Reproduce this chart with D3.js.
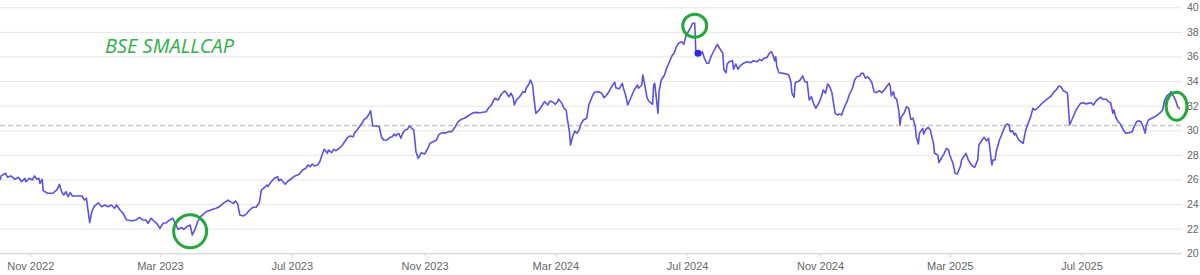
<!DOCTYPE html>
<html>
<head>
<meta charset="utf-8">
<script src="https://cdn.jsdelivr.net/npm/d3@7"></script>
<style>
  html, body { margin: 0; padding: 0; background: #fff; }
  svg { display: block; }
  .axis text { fill: #666; font-family: "Liberation Sans Narrow", "Arial Narrow", "Liberation Sans", Arial, sans-serif; }
  .axis.x text { font-size: 11px; }
  .axis.y text { font-size: 10.5px; }
  .title { font-family: "Open Sans", "Noto Sans", sans-serif; font-style: italic; font-size: 20px; fill: #2fae49; }
</style>
</head>
<body>
<div id="chart"></div>
<script>
const title = 'BSE SMALLCAP';

// closes (one row per month)
const dates = [
  '2022-10-04','2022-10-05','2022-10-09','2022-10-11','2022-10-14','2022-10-18','2022-10-21','2022-10-24','2022-10-27','2022-10-28','2022-10-31',
  '2022-11-03','2022-11-05','2022-11-07','2022-11-09','2022-11-10','2022-11-12','2022-11-13','2022-11-17','2022-11-22','2022-11-26','2022-11-28','2022-11-30',
  '2022-12-02','2022-12-04','2022-12-06','2022-12-08','2022-12-10','2022-12-14','2022-12-19','2022-12-21','2022-12-23','2022-12-26','2022-12-28','2022-12-30',
  '2023-01-03','2023-01-06','2023-01-09','2023-01-12','2023-01-15','2023-01-18','2023-01-20','2023-01-23','2023-01-26','2023-01-29',
  '2023-02-03','2023-02-07','2023-02-10','2023-02-13','2023-02-16','2023-02-18','2023-02-21','2023-02-24','2023-02-26',
  '2023-03-01','2023-03-04','2023-03-07','2023-03-10','2023-03-13','2023-03-15','2023-03-18','2023-03-21','2023-03-23','2023-03-26','2023-03-29','2023-03-31',
  '2023-04-02','2023-04-05','2023-04-08','2023-04-13','2023-04-17','2023-04-22','2023-04-25','2023-04-28',
  '2023-05-03','2023-05-05','2023-05-08','2023-05-10','2023-05-12','2023-05-14','2023-05-17','2023-05-20','2023-05-23','2023-05-26','2023-05-29',
  '2023-06-01','2023-06-03','2023-06-05','2023-06-08','2023-06-09','2023-06-12','2023-06-15','2023-06-18','2023-06-19','2023-06-21','2023-06-23','2023-06-25','2023-06-27','2023-06-30',
  '2023-07-04','2023-07-08','2023-07-11','2023-07-14','2023-07-16','2023-07-18','2023-07-20','2023-07-22','2023-07-25','2023-07-27','2023-07-29','2023-07-31',
  '2023-08-03','2023-08-04','2023-08-07','2023-08-09','2023-08-11','2023-08-14','2023-08-17','2023-08-20','2023-08-22','2023-08-24','2023-08-27','2023-08-28','2023-08-31',
  '2023-09-04','2023-09-06','2023-09-08','2023-09-11','2023-09-12','2023-09-14','2023-09-17','2023-09-20','2023-09-22','2023-09-24','2023-09-27','2023-09-30',
  '2023-10-02','2023-10-04','2023-10-05','2023-10-08','2023-10-10','2023-10-12','2023-10-14','2023-10-16','2023-10-18','2023-10-21','2023-10-22','2023-10-24','2023-10-26','2023-10-27','2023-10-29',
  '2023-11-01','2023-11-04','2023-11-06','2023-11-09','2023-11-12','2023-11-14','2023-11-16','2023-11-19','2023-11-20','2023-11-23','2023-11-26','2023-11-29',
  '2023-12-02','2023-12-05','2023-12-08','2023-12-11','2023-12-14','2023-12-16','2023-12-19','2023-12-22','2023-12-28','2023-12-30',
  '2024-01-02','2024-01-03','2024-01-05','2024-01-08','2024-01-11','2024-01-14','2024-01-16','2024-01-18','2024-01-20','2024-01-22','2024-01-23','2024-01-25','2024-01-28','2024-01-31',
  '2024-02-02','2024-02-03','2024-02-06','2024-02-07','2024-02-09','2024-02-10','2024-02-12','2024-02-15','2024-02-18','2024-02-20','2024-02-23','2024-02-25','2024-02-28',
  '2024-03-01','2024-03-03','2024-03-04','2024-03-07','2024-03-09','2024-03-11','2024-03-12','2024-03-14','2024-03-15','2024-03-17','2024-03-19','2024-03-21','2024-03-23','2024-03-25','2024-03-27','2024-03-30',
  '2024-04-01','2024-04-04','2024-04-06','2024-04-10','2024-04-13','2024-04-15','2024-04-17','2024-04-20','2024-04-23','2024-04-25','2024-04-26','2024-04-29',
  '2024-05-02','2024-05-03','2024-05-05','2024-05-07','2024-05-09','2024-05-11','2024-05-13','2024-05-16','2024-05-17','2024-05-20','2024-05-21','2024-05-23','2024-05-25','2024-05-27','2024-05-30','2024-05-31',
  '2024-06-01','2024-06-04','2024-06-05','2024-06-07','2024-06-10','2024-06-12','2024-06-14','2024-06-17','2024-06-19','2024-06-21','2024-06-23','2024-06-26','2024-06-28','2024-06-30',
  '2024-07-03','2024-07-05','2024-07-06','2024-07-08','2024-07-09','2024-07-11','2024-07-13','2024-07-15','2024-07-17','2024-07-19','2024-07-21','2024-07-23','2024-07-27','2024-07-29','2024-07-31',
  '2024-08-03','2024-08-04','2024-08-06','2024-08-07','2024-08-09','2024-08-12','2024-08-13','2024-08-15','2024-08-17','2024-08-19','2024-08-22','2024-08-26','2024-08-29','2024-08-31',
  '2024-09-04','2024-09-06','2024-09-08','2024-09-10','2024-09-13','2024-09-15','2024-09-17','2024-09-19','2024-09-20','2024-09-21','2024-09-22','2024-09-24','2024-09-28',
  '2024-10-01','2024-10-03','2024-10-05','2024-10-06','2024-10-08','2024-10-09','2024-10-13','2024-10-16','2024-10-18','2024-10-20','2024-10-22','2024-10-24','2024-10-26','2024-10-28','2024-10-31',
  '2024-11-02','2024-11-04','2024-11-06','2024-11-08','2024-11-10','2024-11-12','2024-11-13','2024-11-15','2024-11-17','2024-11-19','2024-11-21','2024-11-22','2024-11-24','2024-11-26','2024-11-28',
  '2024-12-01','2024-12-03','2024-12-05','2024-12-08','2024-12-09','2024-12-11','2024-12-13','2024-12-15','2024-12-17','2024-12-19','2024-12-21','2024-12-23','2024-12-26','2024-12-28','2024-12-31',
  '2025-01-02','2025-01-04','2025-01-05','2025-01-06','2025-01-08','2025-01-09','2025-01-11','2025-01-13','2025-01-14','2025-01-15','2025-01-18','2025-01-20','2025-01-22','2025-01-23','2025-01-24','2025-01-26','2025-01-28','2025-01-29','2025-01-31',
  '2025-02-01','2025-02-02','2025-02-04','2025-02-05','2025-02-07','2025-02-09','2025-02-11','2025-02-14','2025-02-15','2025-02-18','2025-02-19','2025-02-22','2025-02-24','2025-02-26','2025-02-28',
  '2025-03-01','2025-03-04','2025-03-06','2025-03-08','2025-03-11','2025-03-12','2025-03-14','2025-03-16','2025-03-18','2025-03-20','2025-03-22','2025-03-24','2025-03-27','2025-03-28','2025-03-31',
  '2025-04-02','2025-04-04','2025-04-06','2025-04-07','2025-04-09','2025-04-10','2025-04-12','2025-04-13','2025-04-16','2025-04-18','2025-04-21','2025-04-23','2025-04-25','2025-04-26','2025-04-28','2025-04-30',
  '2025-05-01','2025-05-03','2025-05-04','2025-05-06','2025-05-08','2025-05-10','2025-05-12','2025-05-15','2025-05-17','2025-05-19','2025-05-22','2025-05-24','2025-05-26','2025-05-29','2025-05-31',
  '2025-06-03','2025-06-05','2025-06-08','2025-06-10','2025-06-12','2025-06-14','2025-06-16','2025-06-18','2025-06-20','2025-06-22','2025-06-24','2025-06-26','2025-06-28','2025-06-30',
  '2025-07-03','2025-07-05','2025-07-07','2025-07-10','2025-07-12','2025-07-14','2025-07-17','2025-07-19','2025-07-21','2025-07-24','2025-07-26','2025-07-28','2025-07-30','2025-07-31',
  '2025-08-02','2025-08-04','2025-08-06','2025-08-09','2025-08-11','2025-08-14','2025-08-17','2025-08-18','2025-08-21','2025-08-23','2025-08-25','2025-08-27','2025-08-29','2025-08-30',
  '2025-09-01','2025-09-04','2025-09-07','2025-09-09','2025-09-12','2025-09-14','2025-09-16','2025-09-18','2025-09-21','2025-09-22','2025-09-24','2025-09-26','2025-09-28','2025-09-30'
];

const values = [
  25.96,26.29,26.51,26.18,26.29,26.02,26.18,25.82,26.10,25.82,26.10,
  25.96,26.29,26.02,26.10,25.69,26.02,25.10,24.88,24.88,25.20,25.61,25.01,
  24.74,25.01,24.60,24.93,24.66,24.66,24.66,24.33,24.47,22.49,23.38,23.79,
  24.11,23.79,23.93,23.79,23.93,23.66,23.93,23.52,23.25,22.71,
  22.65,22.71,22.93,22.71,22.71,22.44,22.85,22.57,22.44,
  22.03,22.44,22.49,22.71,22.85,22.44,21.95,22.11,21.95,22.16,22.30,21.49,
  21.84,22.57,23.03,23.38,23.52,23.66,23.79,24.01,
  24.33,24.20,24.06,24.25,24.01,23.11,23.03,23.19,23.52,23.74,23.74,
  24.11,25.15,25.28,25.55,25.42,25.82,26.10,26.23,25.90,26.02,25.82,25.61,25.82,26.02,
  26.29,26.42,26.77,26.91,27.18,27.04,27.26,27.10,27.18,27.45,27.99,28.45,
  28.13,28.40,28.18,28.45,28.34,28.54,28.81,29.21,29.43,29.54,29.48,29.76,30.08,
  30.57,30.89,30.98,31.38,31.59,30.35,30.35,30.29,29.48,29.21,29.21,29.43,
  29.48,29.70,29.54,29.76,29.35,29.81,30.03,30.08,30.35,30.08,30.03,28.26,27.72,27.85,28.18,
  28.07,28.54,28.94,29.07,29.21,29.62,29.76,29.81,29.76,29.89,29.89,30.24,
  30.70,30.89,30.98,31.16,31.33,31.43,31.46,31.43,31.51,31.79,
  32.06,32.28,32.60,32.46,32.93,33.20,33.01,32.73,33.01,32.65,32.06,32.46,32.73,33.14,
  33.09,33.42,33.82,34.09,33.68,32.73,31.38,31.65,32.06,32.33,32.06,32.38,32.28,
  32.11,32.33,32.54,32.19,31.79,31.65,30.98,29.89,28.81,29.48,29.94,29.76,30.03,30.57,30.84,30.98,
  32.06,32.73,33.09,33.14,33.01,32.65,32.81,33.20,33.68,33.90,33.46,33.36,
  33.82,33.42,32.87,32.06,32.46,32.87,33.28,33.68,33.42,33.68,34.50,33.55,32.60,32.33,32.11,33.68,
  33.82,31.38,33.14,34.09,34.50,35.04,35.45,36.07,36.26,36.80,37.07,37.20,36.99,37.75,
  38.15,38.50,38.70,38.70,36.39,36.26,36.12,36.39,35.85,35.45,35.45,35.98,36.67,36.99,36.67,
  36.26,34.90,34.68,35.39,35.58,35.66,34.96,35.39,34.96,35.23,35.45,35.58,35.50,35.66,
  35.58,35.77,35.66,35.85,35.93,36.26,36.39,35.98,35.66,35.98,35.17,34.68,34.63,
  34.58,34.50,33.95,33.01,32.68,33.87,34.03,34.42,33.95,33.95,32.46,32.73,32.19,31.79,32.24,
  32.68,33.28,33.01,33.76,33.54,33.06,32.46,31.38,31.24,31.33,31.24,31.51,31.98,32.33,32.87,
  33.42,34.09,34.36,34.42,34.63,34.63,34.23,34.36,34.15,33.87,33.14,33.06,33.22,33.06,33.33,
  33.60,33.82,33.54,32.79,33.14,32.68,32.52,31.51,30.43,31.06,31.43,31.92,31.79,31.38,30.89,30.98,30.35,29.48,28.89,
  29.76,29.89,30.16,29.70,30.08,30.24,30.03,28.94,28.13,27.99,27.37,27.85,28.13,28.54,28.40,
  27.99,27.32,26.50,26.45,27.10,27.59,27.85,28.13,27.64,27.32,27.10,26.99,27.59,28.81,29.21,
  29.43,29.15,29.35,28.67,27.18,27.59,27.59,28.26,29.21,29.62,30.29,30.51,30.43,29.89,29.97,29.62,
  29.76,29.35,29.21,29.07,28.94,29.89,30.43,31.11,31.79,31.65,31.87,32.06,32.24,32.46,32.60,
  32.79,33.06,33.33,33.60,33.54,33.22,33.14,33.01,30.43,30.84,31.24,31.65,31.92,32.19,
  32.24,32.14,32.19,32.24,32.06,32.33,32.60,32.68,32.52,32.52,32.33,32.24,31.38,31.65,
  30.98,30.70,30.51,29.97,29.76,29.81,29.89,30.16,30.70,30.78,30.70,30.29,29.76,30.43,
  30.84,30.98,31.11,31.24,31.43,31.65,32.46,32.79,33.01,33.14,32.79,32.46,31.92,31.73
];

const xDomain = ['2022-10-04', '2025-10-02'];
const xTickDates = ['2022-11-01', '2023-03-01', '2023-07-01', '2023-11-01', '2024-03-01', '2024-07-01', '2024-11-01', '2025-03-01', '2025-07-01'];
const xTickLabels = ['Nov 2022', 'Mar 2023', 'Jul 2023', 'Nov 2023', 'Mar 2024', 'Jul 2024', 'Nov 2024', 'Mar 2025', 'Jul 2025'];
const yDomain = [20, 40];
const yTicks = [20, 22, 24, 26, 28, 30, 32, 34, 36, 38, 40];
const referenceLevel = 30.4;

// green rings drawn over the chart
const ringDates = ['2023-03-29', '2024-07-08', '2025-09-27'];
const ringValues = [21.79, 38.5, 31.96];
const markerDate = '2024-07-11';

const config = {
  width: 1200,
  height: 275,
  margins: { top: 7.3, right: 18, bottom: 21.7, left: 0 },
  rings: [[16.5, 16.5], [12, 11.5], [10.5, 14]]
};

const parse = d3.timeParse('%Y-%m-%d');
const data = dates.map((d, i) => ({ date: parse(d), value: values[i] }));

const plotW = config.width - config.margins.left - config.margins.right;
const plotH = config.height - config.margins.top - config.margins.bottom;

const x = d3.scaleTime()
  .domain(xDomain.map(parse))
  .range([0, plotW]);

const y = d3.scaleLinear()
  .domain(yDomain)
  .range([plotH, 0]);

const svg = d3.select('#chart').append('svg')
  .attr('width', config.width)
  .attr('height', config.height)
  .attr('viewBox', [0, 0, config.width, config.height]);

const g = svg.append('g')
  .attr('transform', `translate(${config.margins.left}, ${config.margins.top})`);

// y axis on the right, ticks double as gridlines
const yAxis = d3.axisRight(y)
  .tickValues(yTicks)
  .tickSize(-plotW)
  .tickPadding(5)
  .tickFormat(d3.format('d'));

g.append('g')
  .attr('class', 'axis y')
  .attr('transform', `translate(${plotW}, 0)`)
  .call(yAxis)
  .call(a => a.select('.domain').remove())
  .call(a => a.selectAll('.tick line')
    .attr('stroke', d => d == yDomain[0] ? '#ccc' : '#e6e6e6'));

// x axis
const xAxis = d3.axisBottom(x)
  .tickValues(xTickDates.map(parse))
  .tickSize(4)
  .tickPadding(5)
  .tickFormat((d, i) => xTickLabels[i]);

g.append('g')
  .attr('class', 'axis x')
  .attr('transform', `translate(0, ${plotH})`)
  .call(xAxis)
  .call(a => a.select('.domain').remove())
  .call(a => a.selectAll('.tick line').attr('stroke', '#ddd'));

// dashed reference level
g.append('line')
  .attr('x1', 0)
  .attr('x2', plotW)
  .attr('y1', y(referenceLevel))
  .attr('y2', y(referenceLevel))
  .attr('stroke', '#c4c4c4')
  .attr('stroke-width', 1.5)
  .attr('stroke-dasharray', '5,3');

const line = d3.line()
  .x(d => x(d.date))
  .y(d => y(d.value));

g.append('path')
  .datum(data)
  .attr('fill', 'none')
  .attr('stroke', '#5a52e2')
  .attr('stroke-width', 1.6)
  .attr('stroke-linejoin', 'round')
  .attr('d', line);

const marker = data.find(d => d.date.getTime() == parse(markerDate).getTime());
g.append('circle')
  .attr('cx', x(marker.date))
  .attr('cy', y(marker.value))
  .attr('r', 3.5)
  .attr('fill', '#3228e0');

g.selectAll('ellipse.ring')
  .data(ringDates)
  .join('ellipse')
    .attr('class', 'ring')
    .attr('cx', d => x(parse(d)))
    .attr('cy', (d, i) => y(ringValues[i]))
    .attr('rx', (d, i) => config.rings[i][0])
    .attr('ry', (d, i) => config.rings[i][1])
    .attr('fill', 'none')
    .attr('stroke', '#24a83c')
    .attr('stroke-width', 3);

svg.append('text')
  .attr('class', 'title')
  .attr('x', 105)
  .attr('y', 53)
  .text(title);
</script>
</body>
</html>
